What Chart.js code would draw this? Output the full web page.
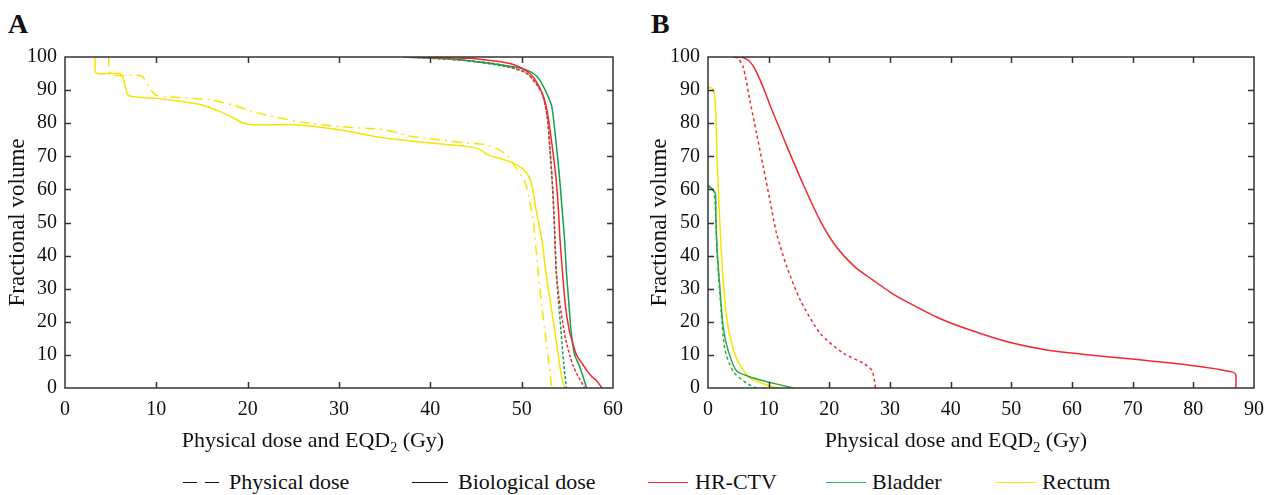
<!DOCTYPE html>
<html>
<head>
<meta charset="utf-8">
<script src="https://cdn.jsdelivr.net/npm/chart.js@4.4.0/dist/chart.umd.min.js"></script>
<style>
body{margin:0;background:#fff;width:1275px;height:495px;position:relative;overflow:hidden;font-family:"Liberation Serif",serif;color:#111;}
#wrapA{position:absolute;left:0;top:0;}
#wrapB{position:absolute;left:640px;top:0;}
.tag{position:absolute;font-weight:bold;font-size:28px;top:8px;}
.xt{position:absolute;top:427px;width:400px;text-align:center;font-size:22px;line-height:26px;}
.xt sub{font-size:14px;line-height:0;}
.leg{position:absolute;top:470px;font-size:22px;line-height:24px;white-space:nowrap;}
.ln{position:absolute;top:12px;height:0;border-top:1.6px solid;}
</style>
</head>
<body>
<div class="tag" style="left:8px">A</div>
<div class="tag" style="left:651px">B</div>
<div id="wrapA"><canvas id="chartA" width="640" height="460"></canvas></div>
<div id="wrapB"><canvas id="chartB" width="635" height="460"></canvas></div>
<div class="xt" style="left:113px">Physical dose and EQD<sub>2</sub> (Gy)</div>
<div class="xt" style="left:756px">Physical dose and EQD<sub>2</sub> (Gy)</div>

<div class="leg" style="left:183px;width:180px">
  <span class="ln" style="left:0;width:14px;border-color:#111"></span>
  <span class="ln" style="left:22px;width:14px;border-color:#111"></span>
  <span style="position:absolute;left:46px">Physical dose</span>
</div>
<div class="leg" style="left:412px;width:200px">
  <span class="ln" style="left:0;width:36px;border-color:#111"></span>
  <span style="position:absolute;left:46px">Biological dose</span>
</div>
<div class="leg" style="left:648px;width:140px">
  <span class="ln" style="left:0;width:40px;border-color:#ee2a2f"></span>
  <span style="position:absolute;left:47px">HR-CTV</span>
</div>
<div class="leg" style="left:826px;width:130px">
  <span class="ln" style="left:0;width:40px;border-color:#3bb54a"></span>
  <span style="position:absolute;left:46px">Bladder</span>
</div>
<div class="leg" style="left:996px;width:130px">
  <span class="ln" style="left:0;width:40px;border-color:#f5e31a"></span>
  <span style="position:absolute;left:46px">Rectum</span>
</div>

<script>
// panel A
var aRectumBioDose=[3.3,3.3,3.5,6.0,6.3,6.6,6.9,7.5,10,13,15,17,18.5,19.5,21,25,30,35,40,44,45.5,46.2,47.5,49,50.2,51,51.5,52.2,52.7,53.2,53.7,54.1,54.4,54.7];
var aRectumBioVol=[100,96,95,95,94,91,88.5,88,87.5,86.5,85.5,83.5,81.5,80,79.5,79.5,78,75.5,74,73,72,70.5,69.5,68,66,62.5,55,45,34,25,16,8,3,0];
var aRectumPhysDose=[4.8,4.8,5.1,8.0,8.5,9.2,9.9,11,14,16,18.4,20.3,22,25.7,30,35,38,41,44,46,47.5,48.5,49.5,50.4,50.9,51.3,51.8,52.2,52.6,53.0,53.3];
var aRectumPhysVol=[100,96,94.5,94.5,94,91,88.5,88,87.5,87,85.5,83.7,82.5,80.4,79,78,76,75,74,73.5,72,70,66,62,56,50,35,25,16,7,0];
var aCtvBioDose=[38,44,47,49,50.9,52.0,52.7,53.2,53.7,54.0,54.2,54.5,54.8,55.2,55.5,56.0,56.6,57.1,57.7,58.2,58.8];
var aCtvBioVol=[100,99.6,98.8,97.8,95,90.6,85,76,65,55,44.7,34,24.6,17.5,14.5,10,7.5,5.4,3.4,2.2,0];
var aCtvPhysDose=[38,43.6,47,49,50.6,51.7,52.3,52.8,53.1,53.4,53.6,53.8,54.1,54.5,54.8,55.3,55.6,56.0,56.9];
var aCtvPhysVol=[100,99,98,96.7,95,91.5,88.5,82,72,60,48,34.7,27,19.6,15,9.5,7,4.5,0];
var aBladderBioDose=[37,42,45.4,48,49.8,51,51.7,52.3,52.9,53.3,53.7,54.1,54.4,54.7,54.9,55.1,55.4,55.8,56.2,56.6,57.1];
var aBladderBioVol=[100,99.5,98.5,97.5,96.7,95.5,94,91.5,88,85,76,65,55,44.7,35,28,17.5,10,7.5,4.5,0];
var aBladderPhysDose=[37,43.6,49,50.6,51.7,52.3,52.8,53.1,53.4,53.6,53.8,54.0,54.3,54.6,54.9];
var aBladderPhysVol=[100,99,96.7,95,91.5,88.5,82,72,60,48,34.7,27,17.5,7.5,0];

// panel B
var bCtvBioDose=[4.1,5.5,6.4,6.9,7.7,8.6,9.5,10.2,11.9,13.0,15.7,18.5,21.2,24.2,27.2,30,32.8,38.2,43.7,49.3,55.8,61.3,71.2,79.4,84,86.5,87,87];
var bCtvBioVol=[100,100,99.3,98.6,96.5,93,89,85.5,78,73,61.5,50.5,42.5,36.6,32.6,29,26,21,17.2,14,11.5,10.3,8.5,6.9,5.7,4.8,4,0];
var bCtvPhysDose=[4.4,5.0,5.8,6.9,8.0,9.1,10.2,11.3,13.0,15.2,18.5,22.3,25.6,27.0,27.5,27.6];
var bCtvPhysVol=[100,99.5,97,87,77,66.9,56.8,46.7,36.6,26.6,16.5,10.5,7.5,5.4,1.5,0];
var bBladderBioDose=[0,0.6,1.2,1.3,1.5,1.9,2.5,3.3,4.7,7.5,9.7,14.1];
var bBladderBioVol=[61.3,60.3,58.9,51.8,41.7,31.7,18.5,11.5,5.2,3.0,1.9,0];
var bBladderPhysDose=[0,0.9,1.2,1.4,1.7,2.1,2.8,4.2,6.4,8.0];
var bBladderPhysVol=[61,59.5,55,45,35,25,11.5,4.9,1.4,0];
var bRectumBioDose=[0,0.7,1.1,1.3,1.5,1.7,2.0,2.3,2.6,3.1,3.7,4.7,5.8,6.9,9.7,11.5];
var bRectumBioVol=[91,90.5,88.5,82,70,60,48,38,30,21,15,9,5.5,3,0.9,0];

var xTicksA=[0,10,20,30,40,50,60];
var xTicksB=[0,10,20,30,40,50,60,70,80,90];
var yTicks=[0,10,20,30,40,50,60,70,80,90,100];

var RED='#ee2a2f', GREEN_A='#13a050', GREEN_B='#2ea845', YELLOW='#f5e400';

Chart.defaults.font.family='Liberation Serif';
Chart.defaults.font.size=20;
Chart.defaults.color='#111';

function pts(xs,ys){
  var out=[];
  for(var i=0;i<xs.length;i++) out.push({x:xs[i],y:ys[i]});
  return out;
}
function ds(xs,ys,color,dash){
  return {data:pts(xs,ys),borderColor:color,borderWidth:1.5,borderDash:dash||[],pointRadius:0,tension:0.25,fill:false};
}

// ticks pointing inward on all four sides, plus the frame
var frameTicks={
  id:'frameTicks',
  afterDraw:function(chart){
    var ctx=chart.ctx, a=chart.chartArea, x=chart.scales.x, y=chart.scales.y;
    ctx.save();
    ctx.strokeStyle='#333';
    ctx.lineWidth=1.5;
    ctx.strokeRect(a.left,a.top,a.right-a.left,a.bottom-a.top);
    ctx.beginPath();
    x.ticks.forEach(function(t){
      if(t.value<=x.min||t.value>=x.max) return;
      var p=Math.round(x.getPixelForValue(t.value))+0.5;
      ctx.moveTo(p,a.bottom);ctx.lineTo(p,a.bottom-6);
      ctx.moveTo(p,a.top);ctx.lineTo(p,a.top+6);
    });
    y.ticks.forEach(function(t){
      if(t.value<=y.min||t.value>=y.max) return;
      var p=Math.round(y.getPixelForValue(t.value))+0.5;
      ctx.moveTo(a.left,p);ctx.lineTo(a.left+6,p);
      ctx.moveTo(a.right,p);ctx.lineTo(a.right-6,p);
    });
    ctx.stroke();
    ctx.restore();
  }
};

function makePanel(id,datasets,xMax,xTicks,yWidth,padRight,yTitlePad){
  return new Chart(document.getElementById(id),{
    type:'line',
    data:{datasets:datasets},
    options:{
      responsive:false,
      animation:false,
      layout:{padding:{top:57,right:padRight,left:0,bottom:0}},
      plugins:{legend:{display:false},tooltip:{enabled:false}},
      scales:{
        x:{
          type:'linear',min:0,max:xMax,
          afterBuildTicks:function(s){s.ticks=xTicks.map(function(v){return {value:v};});},
          ticks:{font:{family:'Liberation Serif',size:20},color:'#111',padding:10,maxRotation:0},
          grid:{display:false,drawTicks:false},
          border:{display:false},
          title:{display:false},
          afterFit:function(s){s.height=72;}
        },
        y:{
          min:0,max:100,
          afterBuildTicks:function(s){s.ticks=yTicks.map(function(v){return {value:v};});},
          ticks:{font:{family:'Liberation Serif',size:20},color:'#111',padding:8},
          grid:{display:false,drawTicks:false},
          border:{display:false},
          title:{display:true,text:'Fractional volume',font:{family:'Liberation Serif',size:23},color:'#111',padding:{top:yTitlePad,bottom:0}},
          afterFit:function(s){s.width=yWidth;}
        }
      }
    },
    plugins:[frameTicks]
  });
}

makePanel('chartA',[
  ds(aCtvBioDose,aCtvBioVol,RED),
  ds(aBladderBioDose,aBladderBioVol,GREEN_A),
  ds(aCtvPhysDose,aCtvPhysVol,RED,[3,2]),
  ds(aBladderPhysDose,aBladderPhysVol,GREEN_A,[3,2]),
  ds(aRectumBioDose,aRectumBioVol,YELLOW),
  ds(aRectumPhysDose,aRectumPhysVol,YELLOW,[10,5,2,5])
],60,xTicksA,65,27,4);

makePanel('chartB',[
  ds(bCtvBioDose,bCtvBioVol,RED),
  ds(bCtvPhysDose,bCtvPhysVol,RED,[3,3]),
  ds(bBladderBioDose,bBladderBioVol,GREEN_B),
  ds(bBladderPhysDose,bBladderPhysVol,GREEN_B,[3,3]),
  ds(bRectumBioDose,bRectumBioVol,YELLOW)
],90,xTicksB,68,21,6);
</script>
</body>
</html>
